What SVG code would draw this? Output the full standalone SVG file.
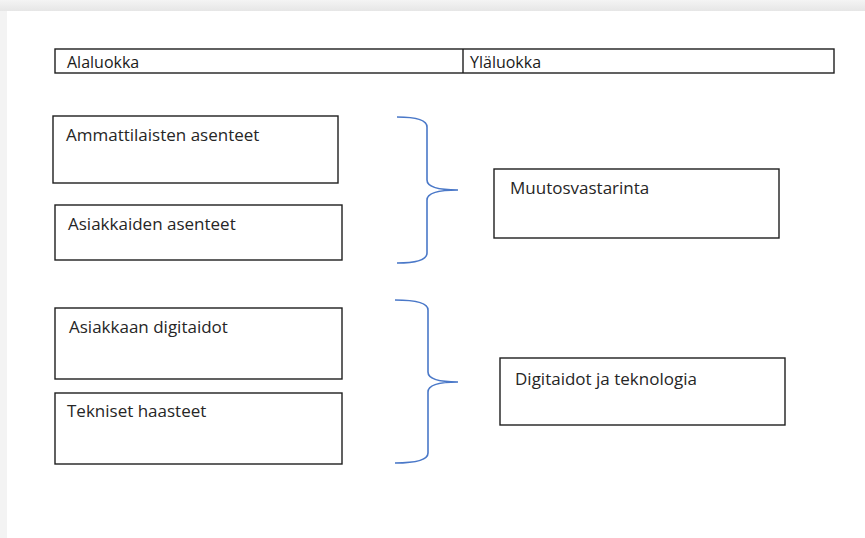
<svg xmlns="http://www.w3.org/2000/svg" width="865" height="538" viewBox="0 0 865 538">
  <style>
    .box { fill: #ffffff; stroke: #1e1e1e; stroke-width: 1.4; }
    .lbl { font-family: "Open Sans", "Noto Sans", "Liberation Sans", sans-serif; font-size: 17px; fill: #262626; }
    .hdr { font-family: "Open Sans", "Noto Sans", "Liberation Sans", sans-serif; font-size: 16px; fill: #1a1a1a; }
    .brace { fill: none; stroke: #4a78c8; stroke-width: 1.6; }
  </style>
  <defs>
    <linearGradient id="topShade" x1="0" y1="0" x2="0" y2="1">
      <stop offset="0" stop-color="#f4f4f4"/>
      <stop offset="1" stop-color="#e6e6e6"/>
    </linearGradient>
  </defs>

  <!-- page background -->
  <rect x="0" y="0" width="865" height="538" fill="#f3f3f3"/>
  <rect x="0" y="0" width="865" height="11" fill="url(#topShade)"/>
  <rect x="7" y="11" width="858" height="527" fill="#ffffff"/>

  <!-- header row -->
  <g id="header">
    <rect class="box" x="55" y="49" width="779" height="24"/>
    <line x1="463" y1="49" x2="463" y2="73" stroke="#1e1e1e" stroke-width="1.4"/>
    <text class="hdr" x="67" y="68">Alaluokka</text>
    <text class="hdr" x="470" y="68">Yläluokka</text>
  </g>

  <g id="ammattilaisten">
    <rect class="box" x="53" y="116" width="285" height="67"/>
    <text class="lbl" x="66" y="141">Ammattilaisten asenteet</text>
  </g>
  <g id="asiakkaiden">
    <rect class="box" x="55" y="205" width="287" height="55"/>
    <text class="lbl" x="68" y="230">Asiakkaiden asenteet</text>
  </g>
  <g id="muutosvastarinta">
    <rect class="box" x="494" y="169" width="285" height="69"/>
    <text class="lbl" x="510" y="194">Muutosvastarinta</text>
  </g>
  <g id="digitaidot">
    <rect class="box" x="55" y="308" width="287" height="71"/>
    <text class="lbl" x="69" y="333">Asiakkaan digitaidot</text>
  </g>
  <g id="tekniset">
    <rect class="box" x="55" y="393" width="287" height="71"/>
    <text class="lbl" x="67" y="417">Tekniset haasteet</text>
  </g>
  <g id="digitaidot-teknologia">
    <rect class="box" x="500" y="358" width="285" height="67"/>
    <text class="lbl" x="515" y="385">Digitaidot ja teknologia</text>
  </g>

  <!-- grouping braces -->
  <g id="connectors">
    <path class="brace" d="M397,117 Q427,117 427,127 L427,180 Q427,190 458,190 Q427,190 427,200 L427,253 Q427,263 397,263"/>
    <path class="brace" d="M395,300 Q428,300 428,310 L428,372 Q428,382 458,382 Q428,382 428,392 L428,453 Q428,463 395,463"/>
  </g>
</svg>
